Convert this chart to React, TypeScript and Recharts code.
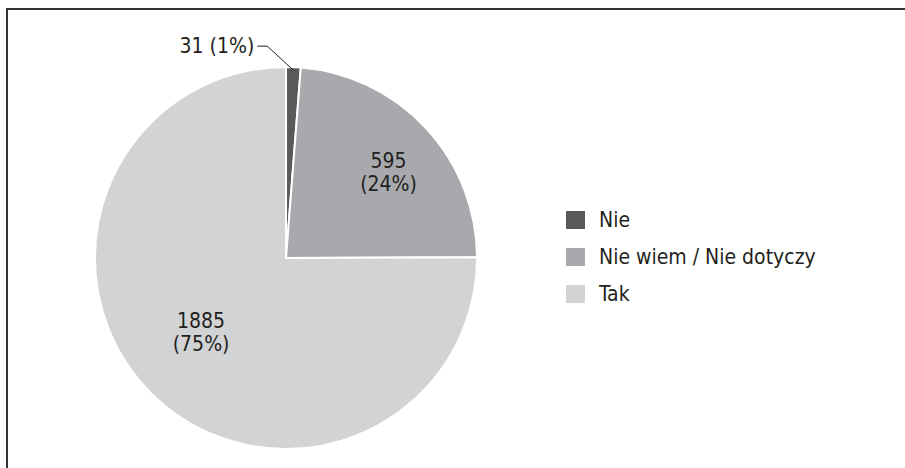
import React from 'react';
import { PieChart, Pie, Cell, Legend } from 'recharts';

const categories = ['Nie', 'Nie wiem / Nie dotyczy', 'Tak'];
const counts = [31, 595, 1885];
const percentLabels = ['1%', '24%', '75%'];
const colors = ['#58595b', '#a7a9ac', '#d1d3d4'];

const data = categories.map((name, i) => ({ name, value: counts[i], pct: percentLabels[i] }));

const FONT = "'DejaVu Sans Condensed', 'Liberation Sans Narrow', sans-serif";
const RAD = Math.PI / 180;

const renderLabel = (props: any) => {
  const { cx, cy, midAngle, outerRadius, index } = props;
  const item = data[index];
  if (index === 0) {
    // small slice: label outside with a leader line
    const sx = cx + (outerRadius - 3) * Math.cos(-midAngle * RAD);
    const sy = cy + (outerRadius - 3) * Math.sin(-midAngle * RAD);
    const ex = sx - 26;
    const ey = sy - 24;
    const tx = ex - 10;
    return (
      <g>
        <polyline points={`${sx},${sy} ${ex},${ey} ${tx},${ey}`} fill="none" stroke="#231f20" strokeWidth={1} />
        <text x={tx - 3} y={ey} textAnchor="end" dominantBaseline="central" fill="#231f20" fontSize={21} fontFamily={FONT}>
          {`${item.value} (${item.pct})`}
        </text>
      </g>
    );
  }
  const r = outerRadius * (index === 1 ? 0.7 : 0.59);
  const angle = midAngle + (index === 1 ? -3 : -4);
  const x = cx + r * Math.cos(-angle * RAD);
  const y = cy + r * Math.sin(-angle * RAD);
  return (
    <text x={x} y={y} textAnchor="middle" fill="#231f20" fontSize={21} fontFamily={FONT}>
      <tspan x={x} dy={-4}>{item.value}</tspan>
      <tspan x={x} dy={23}>{`(${item.pct})`}</tspan>
    </text>
  );
};

const renderLegend = () => (
  <div style={{ fontFamily: FONT, fontSize: 21, color: '#231f20' }}>
    {data.map((d, i) => (
      <div key={d.name} style={{ display: 'flex', alignItems: 'center', height: 37 }}>
        <span style={{ display: 'inline-block', width: 19, height: 18, background: colors[i], marginRight: 14 }} />
        <span>{d.name}</span>
      </div>
    ))}
  </div>
);

export default function App() {
  return (
    <div style={{ position: 'absolute', left: 0, top: 0, width: 905, height: 468, overflow: 'hidden', background: '#fff' }}>
      <div style={{ position: 'absolute', left: 6, top: 8, width: 899, height: 2, background: '#333' }} />
      <div style={{ position: 'absolute', left: 6, top: 8, width: 2, height: 460, background: '#333' }} />
      <div style={{ position: 'absolute', left: 0, top: 0 }}>
        <PieChart width={905} height={468} margin={{ top: 0, right: 0, bottom: 0, left: 0 }}>
          <Pie
            data={data}
            dataKey="value"
            nameKey="name"
            cx={286}
            cy={258}
            outerRadius={191}
            startAngle={90}
            endAngle={-270}
            stroke="#ffffff"
            strokeWidth={2}
            label={renderLabel}
            labelLine={false}
            isAnimationActive={false}
          >
            {data.map((d, i) => (
              <Cell key={d.name} fill={colors[i]} />
            ))}
          </Pie>
          <Legend
            content={renderLegend}
            wrapperStyle={{ position: 'absolute', left: 566, top: 201, width: 300 }}
          />
        </PieChart>
      </div>
    </div>
  );
}
